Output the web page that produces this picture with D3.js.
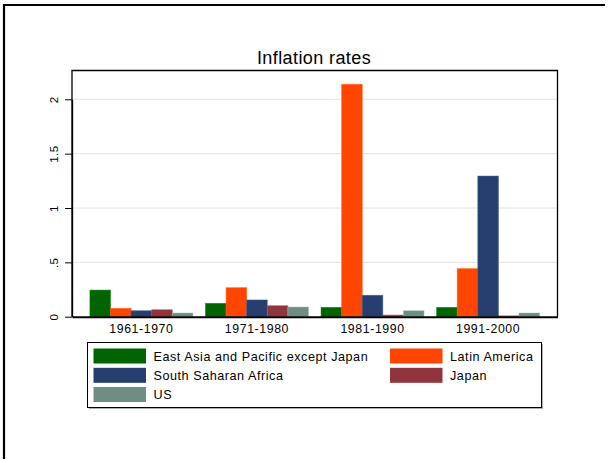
<!DOCTYPE html>
<html>
<head>
<meta charset="utf-8">
<script src="https://cdn.jsdelivr.net/npm/d3@7"></script>
<style>
  html, body { margin: 0; padding: 0; background: #fff; }
  svg { display: block; font-family: "Liberation Sans", Arial, sans-serif; }
</style>
</head>
<body>
<svg id="chart" width="609" height="459"></svg>
<script>
// Decades on the x axis
const decades = ["1961-1970", "1971-1980", "1981-1990", "1991-2000"];

// Region names, in bar order within each decade
const regions = ["East Asia and Pacific except Japan", "Latin America",
                 "South Saharan Africa", "Japan", "US"];

// Average inflation rate per decade for each region
const eastAsia      = [0.245, 0.123, 0.086, 0.086];
const latinAmerica  = [0.077, 0.267, 2.138, 0.442];
const southSaharan  = [0.055, 0.154, 0.197, 1.294];
const japan         = [0.064, 0.101, 0.015, 0.008];
const us            = [0.034, 0.089, 0.055, 0.034];

const seriesValues = [eastAsia, latinAmerica, southSaharan, japan, us];
const colors = ["#006400", "#ff4500", "#263f6e", "#90353b", "#6e8e84"];

// Y-axis ticks and their labels
const yTicks = [0, 0.5, 1, 1.5, 2];
const yTickLabels = ["0", ".5", "1", "1.5", "2"];

const svg = d3.select("#chart");

// Page frame (top and left edges)
svg.append("path")
  .attr("d", "M4,459 V5 H605")
  .attr("fill", "none").attr("stroke", "#000").attr("stroke-width", 2.2);

const plot = { left: 72, right: 557.5, top: 70.5, bottom: 316.7 };

const y = d3.scaleLinear()
  .domain([0, 2])
  .range([plot.bottom, plot.bottom - 2 * 108.7]);

const x0 = d3.scaleBand()
  .domain(decades)
  .range([plot.left, plot.right])
  .paddingInner(0.109)
  .paddingOuter(0.155);

const x1 = d3.scaleBand()
  .domain(d3.range(regions.length))
  .range([0, x0.bandwidth()])
  .padding(0);

// Title
svg.append("text")
  .attr("x", 314).attr("y", 64)
  .attr("text-anchor", "middle")
  .attr("font-size", 18)
  .attr("letter-spacing", 0.4)
  .attr("fill", "#000")
  .text("Inflation rates");

// Gridlines
svg.append("g")
  .selectAll("line")
  .data(yTicks.filter(d => d > 0))
  .join("line")
  .attr("x1", plot.left).attr("x2", plot.right)
  .attr("y1", d => y(d)).attr("y2", d => y(d))
  .attr("stroke", "#e4e4e4").attr("stroke-width", 1);

// Bars
const rows = decades.map((dec, i) => ({ dec, vals: seriesValues.map(s => s[i]) }));
svg.append("g")
  .selectAll("g")
  .data(rows)
  .join("g")
  .attr("transform", d => `translate(${x0(d.dec)},0)`)
  .selectAll("rect")
  .data(d => d.vals.map((v, k) => ({ v, k })))
  .join("rect")
  .attr("x", d => x1(d.k))
  .attr("width", x1.bandwidth())
  .attr("y", d => y(d.v))
  .attr("height", d => y(0) - y(d.v))
  .attr("fill", d => colors[d.k])
  .attr("stroke", d => d3.color(colors[d.k]).brighter(0.8))
  .attr("stroke-width", 0.8)
  .attr("stroke-opacity", 0.6);

// Plot region border (left, top, right)
svg.append("path")
  .attr("d", `M${plot.left},${plot.bottom} V${plot.top} H${plot.right} V${plot.bottom}`)
  .attr("fill", "none").attr("stroke", "#000").attr("stroke-width", 1.3);

// Y axis
const yAxis = d3.axisLeft(y)
  .tickValues(yTicks)
  .tickFormat((d, i) => yTickLabels[i])
  .tickSize(7)
  .tickSizeOuter(0);
const gy = svg.append("g")
  .attr("transform", `translate(${plot.left},0)`)
  .call(yAxis);
gy.select(".domain").attr("stroke", "#000").attr("stroke-width", 1.3);
gy.selectAll(".tick line").attr("stroke", "#000").attr("stroke-width", 1);
gy.selectAll(".tick text")
  .attr("font-size", 11.5)
  .attr("letter-spacing", 0.4)
  .attr("fill", "#000")
  .attr("text-anchor", "middle")
  .attr("x", 0).attr("dy", 0)
  .attr("transform", "translate(-14,0) rotate(-90)")
  .attr("dominant-baseline", "auto");

// X axis
const xAxis = d3.axisBottom(x0).tickSize(0).tickPadding(8);
const gx = svg.append("g")
  .attr("transform", `translate(0,${plot.bottom})`)
  .call(xAxis);
gx.select(".domain").attr("stroke", "#000").attr("stroke-width", 2);
gx.selectAll(".tick text")
  .attr("font-size", 12.3)
  .attr("letter-spacing", 0.6)
  .attr("fill", "#000");

// Legend
const lg = { x: 87.5, y: 342.5, w: 454, h: 65 };
svg.append("rect")
  .attr("x", lg.x + 1.5).attr("y", lg.y + 1.5)
  .attr("width", lg.w).attr("height", lg.h)
  .attr("fill", "#b0b0b0");
svg.append("rect")
  .attr("x", lg.x).attr("y", lg.y)
  .attr("width", lg.w).attr("height", lg.h)
  .attr("fill", "#fff").attr("stroke", "#000").attr("stroke-width", 1);

const colX = [93.5, 390];
const rowY = [348.5, 367.8, 387];
const items = svg.append("g")
  .selectAll("g")
  .data(regions.map((r, k) => ({ r, k })))
  .join("g")
  .attr("transform", d => `translate(${colX[d.k % 2]},${rowY[Math.floor(d.k / 2)]})`);
items.append("rect")
  .attr("width", 52.5).attr("height", 15)
  .attr("fill", d => colors[d.k]);
items.append("text")
  .attr("x", 60).attr("y", 12)
  .attr("font-size", 12.6)
  .attr("letter-spacing", 0.55)
  .attr("fill", "#000")
  .text(d => d.r);
</script>
</body>
</html>
